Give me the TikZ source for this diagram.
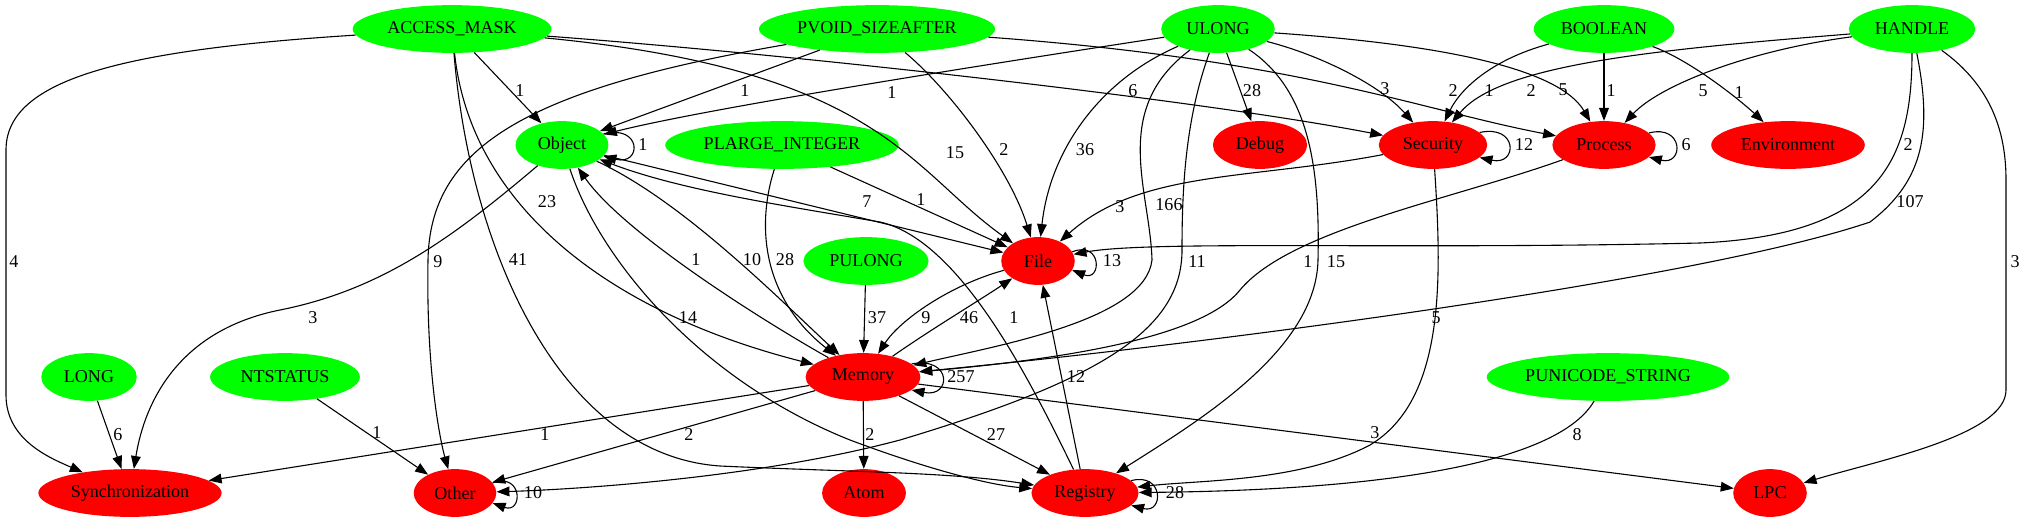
\documentclass[tikz,border=0pt]{standalone}
\usepackage{fontspec}
\setmainfont{Liberation Serif}
\usetikzlibrary{shapes.geometric,arrows.meta}

\begin{document}
\begin{tikzpicture}[x=0.775pt, y=-0.775pt,
  font=\fontsize{14}{16}\selectfont,
  typenode/.style={ellipse, fill=green, inner sep=0pt, minimum height=37pt},
  catnode/.style={ellipse, fill=red, inner sep=0pt, minimum height=37pt},
  flow/.style={-{Triangle[length=10pt,width=7.5pt]}, line width=0.85pt},
  elabel/.style={inner sep=1pt}]
\useasboundingbox (0,0) rectangle (2024,523);

\node[typenode, minimum width=154pt] (accessmask) at (452,29) {ACCESS\_MASK};
\node[typenode, minimum width=183pt] (pvoid) at (877,29) {PVOID\_SIZEAFTER};
\node[typenode, minimum width=88pt] (ulong) at (1218,29) {ULONG};
\node[typenode, minimum width=109pt] (boolean) at (1604,29) {BOOLEAN};
\node[typenode, minimum width=98pt] (handle) at (1912,29) {HANDLE};
\node[typenode, minimum width=72pt] (object) at (562,145) {Object};
\node[typenode, minimum width=181pt] (plarge) at (782,145) {PLARGE\_INTEGER};
\node[catnode, minimum width=73pt] (debug) at (1260,145) {Debug};
\node[catnode, minimum width=84pt] (security) at (1433,145) {Security};
\node[catnode, minimum width=80pt] (process) at (1604,145) {Process};
\node[catnode, minimum width=119pt] (environment) at (1788,145) {Environment};
\node[typenode, minimum width=97pt] (pulong) at (866,261) {PULONG};
\node[catnode, minimum width=57pt] (file) at (1038,261) {File};
\node[typenode, minimum width=74pt] (long) at (89,377) {LONG};
\node[typenode, minimum width=116pt] (ntstatus) at (285,377) {NTSTATUS};
\node[catnode, minimum width=89pt] (memory) at (863,377) {Memory};
\node[typenode, minimum width=188pt] (punicode) at (1608,377) {PUNICODE\_STRING};
\node[catnode, minimum width=142pt] (sync) at (130,493) {Synchronization};
\node[catnode, minimum width=64pt] (other) at (455,493) {Other};
\node[catnode, minimum width=65pt] (atom) at (864,493) {Atom};
\node[catnode, minimum width=83pt] (registry) at (1085,493) {Registry};
\node[catnode, minimum width=57pt] (lpc) at (1770,493) {LPC};

\draw[flow] (accessmask) .. controls (120,50) and (6,80) .. (6,150) -- (6,395) .. controls (6,440) and (50,458) .. (sync) node[elabel] at (14,262) {4};
\draw[flow] (accessmask) -- (object) node[elabel] at (520,91) {1};
\draw[flow] (accessmask) .. controls (880,70) and (910,170) .. (file) node[elabel] at (955,153) {15};
\draw[flow] (accessmask) .. controls (800,55) and (1200,100) .. (security) node[elabel] at (1133,91) {6};
\draw[flow] (accessmask) .. controls (470,200) and (600,310) .. (memory) node[elabel] at (547,202) {23};
\draw[flow] (accessmask) .. controls (470,250) and (560,455) .. (720,466) .. controls (850,472) and (950,472) .. (registry) node[elabel] at (518,260) {41};
\draw[flow] (pvoid) -- (object) node[elabel] at (745,91) {1};
\draw[flow] (pvoid) .. controls (520,90) and (430,150) .. (428,260) .. controls (426,370) and (440,440) .. (other) node[elabel] at (438,262) {9};
\draw[flow] (pvoid) .. controls (950,90) and (1010,170) .. (file) node[elabel] at (1004,150) {2};
\draw[flow] (pvoid) .. controls (1300,60) and (1420,110) .. (process) node[elabel] at (1453,91) {2};
\draw[flow] (ulong) .. controls (950,70) and (700,110) .. (object) node[elabel] at (892,93) {1};
\draw[flow] (ulong) .. controls (1100,80) and (1050,150) .. (file) node[elabel] at (1085,150) {36};
\draw[flow] (ulong) .. controls (1110,110) and (1150,190) .. (1152,260) .. controls (1145,320) and (1000,345) .. (memory) node[elabel] at (1169,205) {166};
\draw[flow] (ulong) .. controls (1185,120) and (1182,190) .. (1182,250) .. controls (1182,330) and (1100,380) .. (900,440) .. controls (750,480) and (560,490) .. (other) node[elabel] at (1197,262) {11};
\draw[flow] (ulong) -- (debug) node[elabel] at (1252,91) {28};
\draw[flow] (ulong) .. controls (1320,55) and (1380,85) .. (security) node[elabel] at (1385,89) {3};
\draw[flow] (ulong) .. controls (1450,45) and (1560,70) .. (process) node[elabel] at (1563,90) {5};
\draw[flow] (ulong) .. controls (1310,90) and (1320,170) .. (1318,260) .. controls (1316,350) and (1200,420) .. (registry) node[elabel] at (1336,262) {15};
\draw[flow] (boolean) .. controls (1490,60) and (1460,90) .. (security) node[elabel] at (1489,91) {1};
\draw[flow] (boolean) -- (process) node[elabel] at (1611,91) {1};
\draw[flow] (boolean) .. controls (1690,60) and (1740,100) .. (environment) node[elabel] at (1739,93) {1};
\draw[flow] (handle) .. controls (1650,50) and (1500,65) .. (security) node[elabel] at (1531,91) {2};
\draw[flow] (handle) .. controls (1750,50) and (1660,85) .. (process) node[elabel] at (1703,91) {5};
\draw[flow] (handle) .. controls (1912,160) and (1880,235) .. (1700,243) .. controls (1400,250) and (1150,240) .. (file) node[elabel] at (1908,145) {2};
\draw[flow] (handle) .. controls (1932,130) and (1925,180) .. (1870,222) .. controls (1700,280) and (1200,345) .. (memory) node[elabel] at (1910,202) {107};
\draw[flow] (handle) .. controls (1990,85) and (2006,130) .. (2006,180) -- (2006,390) .. controls (2006,435) and (1880,460) .. (lpc) node[elabel] at (2015,262) {3};
\draw[flow] (plarge) -- (file) node[elabel] at (921,200) {1};
\draw[flow] (plarge) .. controls (755,230) and (765,300) .. (memory) node[elabel] at (785,260) {28};
\draw[flow] (object) -- (file) node[elabel] at (867,202) {7};
\draw[flow] (object.15) .. controls (642,124) and (642,166) .. (object.-15) node[elabel] at (643,145) {1};
\draw[flow] (object) .. controls (450,240) and (380,290) .. (280,310) .. controls (180,330) and (145,400) .. (sync) node[elabel] at (313,318) {3};
\draw[flow] (object) .. controls (600,260) and (700,380) .. (850,440) .. controls (930,470) and (990,485) .. (registry) node[elabel] at (688,318) {14};
\draw[flow] (memory) .. controls (770,325) and (625,235) .. (object) node[elabel] at (696,260) {1};
\draw[flow] (object) .. controls (680,200) and (770,290) .. (memory) node[elabel] at (752,260) {10};
\draw[flow] (registry) .. controls (1030,380) and (960,240) .. (880,222) .. controls (780,205) and (680,190) .. (object) node[elabel] at (1014,318) {1};
\draw[flow] (security) .. controls (1250,180) and (1140,170) .. (file) node[elabel] at (1120,207) {3};
\draw[flow] (security.15) .. controls (1518,124) and (1518,166) .. (security.-15) node[elabel] at (1524,145) {12};
\draw[flow] (security) .. controls (1442,280) and (1445,400) .. (1370,445) .. controls (1300,482) and (1200,480) .. (registry) node[elabel] at (1436,318) {5};
\draw[flow] (process.15) .. controls (1684,124) and (1684,166) .. (process.-15) node[elabel] at (1686,145) {6};
\draw[flow] (process) .. controls (1450,200) and (1290,230) .. (1240,290) .. controls (1200,340) and (1050,360) .. (memory) node[elabel] at (1308,262) {1};
\draw[flow] (file.15) .. controls (1102,240) and (1102,282) .. (file.-15) node[elabel] at (1112,261) {13};
\draw[flow] (file) .. controls (950,285) and (900,320) .. (memory) node[elabel] at (926,318) {9};
\draw[flow] (memory) .. controls (930,330) and (980,300) .. (file) node[elabel] at (969,318) {46};
\draw[flow] (pulong) -- (memory) node[elabel] at (877,318) {37};
\draw[flow] (registry) -- (file) node[elabel] at (1076,377) {12};
\draw[flow] (memory.15) .. controls (952,356) and (952,398) .. (memory.-15) node[elabel] at (961,377) {257};
\draw[flow] (memory) -- (sync) node[elabel] at (545,435) {1};
\draw[flow] (memory) -- (other) node[elabel] at (689,435) {2};
\draw[flow] (memory) -- (atom) node[elabel] at (870,435) {2};
\draw[flow] (memory) -- (registry) node[elabel] at (996,435) {27};
\draw[flow] (memory) -- (lpc) node[elabel] at (1375,433) {3};
\draw[flow] (long) -- (sync) node[elabel] at (118,435) {6};
\draw[flow] (ntstatus) -- (other) node[elabel] at (377,433) {1};
\draw[flow] (punicode) .. controls (1560,460) and (1400,490) .. (registry) node[elabel] at (1577,435) {8};
\draw[flow] (other.15) .. controls (523,472) and (523,514) .. (other.-15) node[elabel] at (533,493) {10};
\draw[flow] (registry.15) .. controls (1164,472) and (1164,514) .. (registry.-15) node[elabel] at (1175,493) {28};
\end{tikzpicture}
\end{document}
